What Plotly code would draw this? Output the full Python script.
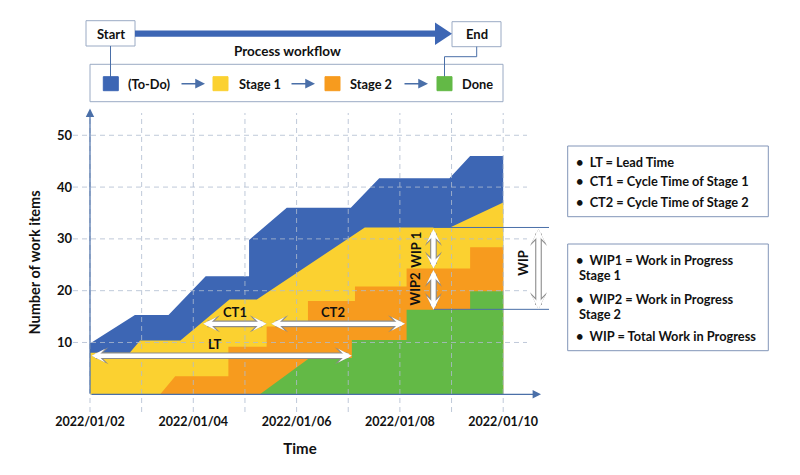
import plotly.graph_objects as go

# ---------------- data (x in days since 2022/01/02) ----------------
todo_days = [0, 0.87, 1.52, 2.24, 3.08, 3.08, 3.81, 5.05, 5.6, 6.96, 7.36, 8]
todo_vals = [9.8, 15.3, 15.3, 22.8, 22.8, 29.8, 36, 36, 41.7, 41.7, 46, 46]
stage1_days = [0, 0.77, 0.97, 1.75, 2.7, 3.23, 5.32, 6.97, 8]
stage1_vals = [8, 8, 10.4, 10.4, 18.3, 18.3, 32.2, 32.2, 37]
stage2_days = [1.36, 1.65, 2.68, 2.68, 3.42, 3.42, 4.22, 4.22, 5.13, 5.13, 6.13, 6.13, 7.36, 7.36, 8]
stage2_vals = [0, 3.5, 3.5, 9.2, 9.2, 13.1, 13.1, 18, 18, 20.8, 20.8, 24.3, 24.3, 28.4, 28.4]
done_days = [3.29, 4.25, 5.07, 5.07, 6.13, 6.13, 7.36, 7.36, 8]
done_vals = [0, 7, 7, 10.5, 10.5, 16.3, 16.3, 19.9, 19.9]

tick_days = [0, 2, 4, 6, 8]
tick_labels = ["2022/01/02", "2022/01/04", "2022/01/06", "2022/01/08", "2022/01/10"]
y_ticks = [10, 20, 30, 40, 50]

# measurement arrows (start day, end day, level) and vertical WIP arrows
lt_arrow = (0, 5.07, 7.45)
ct1_arrow = (2.16, 3.42, 13.6)
ct2_arrow = (3.48, 6.1, 13.6)
wip_day = 6.65
wip1_range = (32.2, 24.3)
wip2_range = (24.3, 16.3)
wip_total = (32.2, 16.4)

BLUE = "#3d66b4"
YELLOW = "#fbd130"
ORANGE = "#f79b1e"
GREEN = "#63b946"
EDGE = "#9aaac4"
AXC = "#4a6fa8"
FONT = "Lato"
TXT = "#111111"

# layout geometry (pixels, in page coordinates; page body has an 8px margin)
OFF = 8
W, H = 800 - OFF, 475 - OFF
L, R, T, B = 73, 527, 113, 412
PW, PH = R - L, B - T
XMIN, XMAX = -0.329, 8.461
YMIN, YMAX = -3.42, 54.3


def fx(p):
    return (p - L) / PW


def fy(p):
    return (B - p) / PH


def dx(day):
    return (day - XMIN) / (XMAX - XMIN)


fig = go.Figure()
for xs, ys, col, name in [
    (todo_days, todo_vals, BLUE, "(To-Do)"),
    (stage1_days, stage1_vals, YELLOW, "Stage 1"),
    (stage2_days, stage2_vals, ORANGE, "Stage 2"),
    (done_days, done_vals, GREEN, "Done"),
]:
    fig.add_trace(go.Scatter(x=xs, y=ys, mode="lines", fill="tozeroy",
                             fillcolor=col, line=dict(width=0, color=col),
                             name=name, showlegend=False, hoverinfo="skip"))

shapes = []
ann = []
GRID = dict(color="rgba(175,188,208,0.8)", width=1, dash="5px,4px")
for d in range(0, 9):
    shapes.append(dict(type="line", xref="x", yref="paper", x0=d, x1=d, y0=0, y1=1,
                       line=GRID, layer="above"))
for v in y_ticks:
    shapes.append(dict(type="line", xref="paper", yref="y", x0=0, x1=1, y0=v, y1=v,
                       line=GRID, layer="above"))

# axis arrows
ann.append(dict(xref="x", yref="paper", x=0, y=fy(108.5), ax=0, ay=395 - 108.5,
                axref="pixel", ayref="pixel", text="", showarrow=True,
                arrowhead=2, arrowsize=1.4, arrowwidth=1.2, arrowcolor=AXC))
ann.append(dict(xref="paper", yref="y", x=fx(541), y=0, ax=-(541 - 90), ay=0,
                axref="pixel", ayref="pixel", text="", showarrow=True,
                arrowhead=2, arrowsize=1.4, arrowwidth=1.2, arrowcolor=AXC))


def white_arrow(**kw):
    base = dict(text="", showarrow=True, arrowside="end+start",
                arrowhead=3, startarrowhead=3)
    g = dict(base, **kw, arrowcolor="#8c8c8c", arrowwidth=6.6,
             arrowsize=0.43, startarrowsize=0.43)
    w = dict(base, **kw, arrowcolor="#ffffff", arrowwidth=4.4,
             arrowsize=0.52, startarrowsize=0.52)
    ann.append(g)
    ann.append(w)


for (a, b, lv) in [lt_arrow, ct1_arrow, ct2_arrow]:
    white_arrow(xref="x", yref="y", x=b, y=lv, axref="x", ayref="y", ax=a, ay=lv)
for (top, bot) in [wip1_range, wip2_range]:
    white_arrow(xref="x", yref="y", x=wip_day, y=bot, axref="x", ayref="y",
                ax=wip_day, ay=top)
white_arrow(xref="paper", yref="y", x=fx(538.5), y=wip_total[1], axref="pixel",
            ayref="y", ax=0, ay=wip_total[0])

# WIP bracket lines
for lv in wip_total:
    shapes.append(dict(type="line", xref="paper", yref="y", x0=dx(wip_day), x1=fx(549),
                       y0=lv, y1=lv, line=dict(color=AXC, width=1)))


def label(text, x, y, xref="x", yref="y", size=13, angle=0, xanchor="center"):
    ann.append(dict(text=text, x=x, y=y, xref=xref, yref=yref, showarrow=False,
                    textangle=angle, xanchor=xanchor, yanchor="middle",
                    font=dict(family=FONT, size=size, color=TXT, weight="bold")))


label("LT", 2.42, 9.8)
label("CT1", 2.81, 15.8)
label("CT2", 4.71, 15.8)
label("WIP 1", 6.31, 27.9, angle=-90)
label("WIP2", 6.29, 20.4, angle=-90)
label("WIP", fx(523.5), 25.3, xref="paper", angle=-90)

# ---------------- top workflow diagram ----------------
def rect(x0, y0, x1, y1, line=EDGE, fill="white", width=1):
    shapes.append(dict(type="rect", xref="paper", yref="paper",
                       x0=fx(x0), x1=fx(x1), y0=fy(y0), y1=fy(y1),
                       line=dict(color=line, width=width), fillcolor=fill))


rect(86, 20.7, 135, 46)
rect(452, 21.7, 501, 46.7)
rect(90, 64.3, 503, 101.7)
# big process arrow
shapes.append(dict(type="rect", xref="paper", yref="paper", x0=fx(135), x1=fx(436),
                   y0=fy(30.5), y1=fy(36.8), line=dict(width=0), fillcolor=BLUE))
shapes.append(dict(type="path", xref="paper", yref="paper",
                   path=f"M {fx(435)} {fy(22.5)} L {fx(452)} {fy(33.7)} L {fx(435)} {fy(45)} Z",
                   line=dict(width=0), fillcolor=BLUE))
# connectors
shapes.append(dict(type="line", xref="paper", yref="paper", x0=fx(110.5), x1=fx(110.5),
                   y0=fy(46), y1=fy(77), line=dict(color=AXC, width=1)))
shapes.append(dict(type="path", xref="paper", yref="paper",
                   path=(f"M {fx(476.7)} {fy(46.7)} L {fx(476.7)} {fy(56.7)} "
                         f"L {fx(444.5)} {fy(56.7)} L {fx(444.5)} {fy(77)}"),
                   line=dict(color=AXC, width=1)))
for (x0, col) in [(103.3, BLUE), (213, YELLOW), (325, ORANGE), (437, GREEN)]:
    rect(x0, 76.7, x0 + 15, 90.7, line=col, fill=col)
for xa in [180, 290, 403]:
    ann.append(dict(xref="paper", yref="paper", x=fx(xa + 25), y=fy(83.7),
                    ax=-25, ay=0, axref="pixel", ayref="pixel", text="", showarrow=True,
                    arrowhead=2, arrowsize=1.3, arrowwidth=1.5, arrowcolor=AXC))

label("Start", fx(110.5), fy(33.5), "paper", "paper", size=13)
label("End", fx(476.5), fy(34.3), "paper", "paper", size=13)
label("Process workflow", fx(287), fy(51), "paper", "paper", size=13.5)
for (xt, t) in [(126, "(To-Do)"), (237, "Stage 1"), (348, "Stage 2"), (460, "Done")]:
    label(t, fx(xt), fy(84), "paper", "paper", size=12.8, xanchor="left")

# ---------------- right explanation boxes ----------------
rect(567.7, 146, 768.3, 216.7, line="#8295b8")
rect(567.7, 244, 768.3, 350.7, line="#8295b8")
for (yt, t, xt) in [
    (161.7, "•  LT = Lead Time", 574),
    (181.0, "•  CT1 = Cycle Time of Stage 1", 574),
    (201.7, "•  CT2 = Cycle Time of Stage 2", 574),
    (260.0, "•  WIP1 = Work in Progress", 574),
    (275.3, "Stage 1", 577),
    (298.5, "•  WIP2 = Work in Progress", 574),
    (313.5, "Stage 2", 577),
    (335.5, "•  WIP = Total Work in Progress", 574),
]:
    label(t, fx(xt), fy(yt), "paper", "paper", size=12.8, xanchor="left")

fig.update_layout(
    width=W, height=H,
    margin=dict(l=L - OFF, r=800 - R, t=T - OFF, b=475 - B),
    paper_bgcolor="white", plot_bgcolor="white",
    shapes=shapes, annotations=ann, showlegend=False,
    xaxis=dict(range=[XMIN, XMAX], showgrid=False, zeroline=False, showline=False,
               tickvals=tick_days, ticktext=tick_labels, ticks="",
               tickfont=dict(family=FONT, size=12.5, color=TXT, weight="bold"),
               title=dict(text="Time", standoff=15,
                          font=dict(family=FONT, size=15, color=TXT, weight="bold"))),
    yaxis=dict(range=[YMIN, YMAX], showgrid=False, zeroline=False, showline=False,
               tickvals=y_ticks, ticks="",
               tickfont=dict(family=FONT, size=13, color=TXT, weight="bold"),
               title=dict(text="Number of work items", standoff=12,
                          font=dict(family=FONT, size=14.5, color=TXT, weight="bold"))),
)

fig.write_html("out.html")
